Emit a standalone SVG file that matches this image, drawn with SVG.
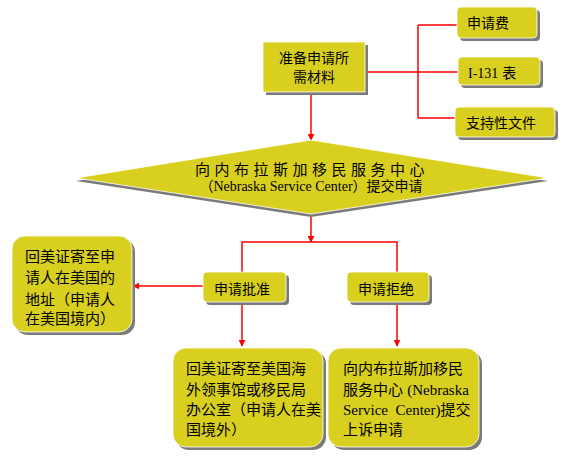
<svg xmlns="http://www.w3.org/2000/svg" width="574" height="464" viewBox="0 0 574 464">
<defs>
<style>
.box{fill:#D9CF1E;stroke:#ffffff;stroke-width:0.8}
.sh{fill:#7a7a7a}
.t{font-family:"Liberation Sans","Noto Sans CJK SC",sans-serif;font-size:14px;fill:#000}
.b{font-size:15px}
.e{font-family:"Liberation Serif","Noto Sans CJK SC",serif}
.c{stroke:#FF0000;stroke-width:1.5;fill:none}
</style>
<marker id="ah" viewBox="0 0 10 10" refX="9" refY="5" markerWidth="7" markerHeight="7" markerUnits="userSpaceOnUse" orient="auto">
<path d="M0,0 L10,5 L0,10 Z" fill="#FF0000"/>
</marker>
</defs>
<rect width="574" height="464" fill="#ffffff"/>

<g id="connectors">
<path class="c" d="M311,92 V140" marker-end="url(#ah)"/>
<path class="c" d="M365,72 H458"/>
<path class="c" d="M418,25 V118"/>
<path class="c" d="M418,25 H457"/>
<path class="c" d="M418,118 H455"/>
<path class="c" d="M311,214 V242" marker-end="url(#ah)"/>
<path class="c" d="M242,272 V242 H397 V272"/>
<path class="c" d="M242,302 V346" marker-end="url(#ah)"/>
<path class="c" d="M397,302 V346" marker-end="url(#ah)"/>
<path class="c" d="M203,286 H133" marker-end="url(#ah)"/>
</g>

<g id="prep">
<rect class="sh" x="266" y="45" width="102" height="50"/>
<rect class="box" x="263" y="42" width="102" height="50"/>
<text class="t" x="314" y="63" text-anchor="middle">准备申请所</text>
<text class="t" x="314" y="82" text-anchor="middle">需材料</text>
</g>

<g id="fee">
<rect class="sh" x="460" y="10" width="80" height="31" rx="4"/>
<rect class="box" x="457" y="7" width="80" height="31" rx="4"/>
<text class="t" x="467" y="28">申请费</text>
</g>

<g id="i131">
<rect class="sh" x="461" y="60" width="82" height="28" rx="4"/>
<rect class="box" x="458" y="57" width="82" height="28" rx="4"/>
<text class="t" x="468" y="78"><tspan class="e">I-131</tspan> 表</text>
</g>

<g id="support">
<rect class="sh" x="458" y="110" width="100" height="30" rx="4"/>
<rect class="box" x="455" y="107" width="100" height="30" rx="4"/>
<text class="t" x="466" y="128">支持性文件</text>
</g>

<g id="submit">
<polygon class="sh" points="311,143 548,181 311,217 76,181"/>
<polygon class="box" points="311,140 548,178 311,214 76,178"/>
<text class="t b" x="312" y="175" text-anchor="middle" letter-spacing="4.5">向内布拉斯加移民服务中心</text>
<text class="t" x="311" y="191" text-anchor="middle">（<tspan class="e">Nebraska Service Center</tspan>）提交申请</text>
</g>

<g id="approve">
<rect class="sh" x="206" y="275" width="83" height="30" rx="4"/>
<rect class="box" x="203" y="272" width="83" height="30" rx="4"/>
<text class="t" x="214" y="294">申请批准</text>
</g>

<g id="deny">
<rect class="sh" x="350" y="275" width="82" height="30" rx="4"/>
<rect class="box" x="347" y="272" width="82" height="30" rx="4"/>
<text class="t" x="358" y="294">申请拒绝</text>
</g>

<g id="mail-us">
<rect class="sh" x="15" y="239" width="120" height="96" rx="13"/>
<rect class="box" x="12" y="236" width="120" height="96" rx="13"/>
<text class="t b" x="25" y="262">回美证寄至申</text>
<text class="t b" x="25" y="283">请人在美国的</text>
<text class="t b" x="25" y="305">地址（申请人</text>
<text class="t b" x="25" y="324">在美国境内）</text>
</g>

<g id="mail-abroad">
<rect class="sh" x="176" y="351" width="150" height="99" rx="13"/>
<rect class="box" x="173" y="348" width="150" height="99" rx="13"/>
<text class="t b" x="186" y="374">回美证寄至美国海</text>
<text class="t b" x="186" y="395">外领事馆或移民局</text>
<text class="t b" x="186" y="415">办公室（申请人在美</text>
<text class="t b" x="186" y="435">国境外）</text>
</g>

<g id="appeal">
<rect class="sh" x="331" y="351" width="151" height="99" rx="13"/>
<rect class="box" x="328" y="348" width="151" height="99" rx="13"/>
<text class="t b" x="343" y="374">向内布拉斯加移民</text>
<text class="t b" x="343" y="395">服务中心 <tspan class="e">(Nebraska</tspan></text>
<text class="t b" x="343" y="415"><tspan class="e" xml:space="preserve">Service  Center)</tspan>提交</text>
<text class="t b" x="343" y="435">上诉申请</text>
</g>
</svg>
